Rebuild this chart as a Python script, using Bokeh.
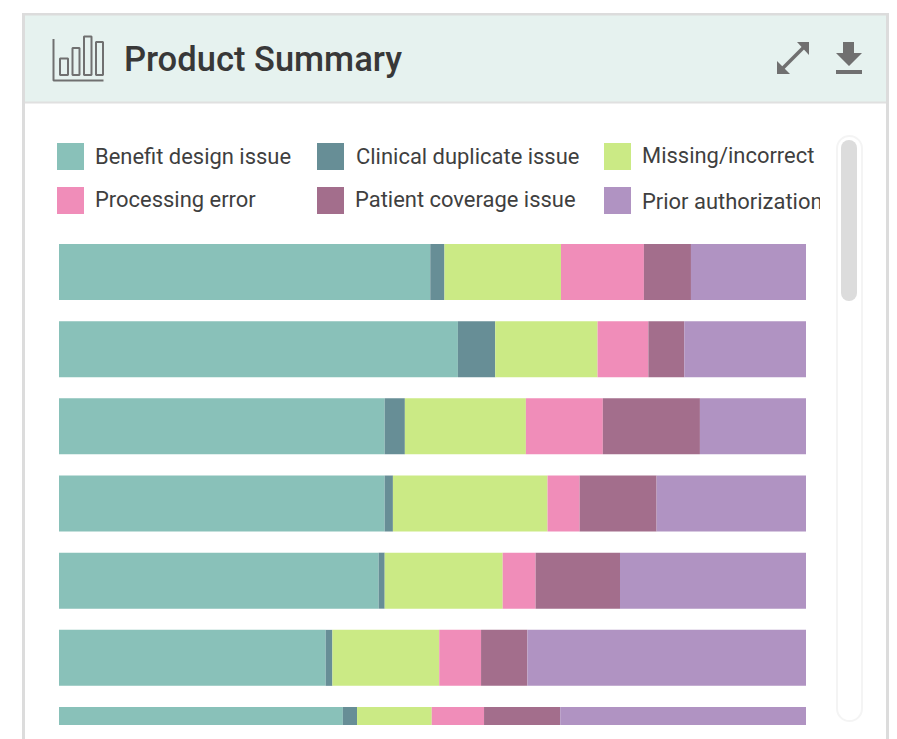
from bokeh.plotting import figure
from bokeh.models import Range1d, BoxAnnotation, ColumnDataSource
from bokeh.core.properties import value
from bokeh.embed import file_html
from bokeh.resources import INLINE

title = "Product Summary"
series = ["Benefit design issue", "Clinical duplicate issue", "Missing/incorrect",
          "Processing error", "Patient coverage issue", "Prior authorization"]
colors = ["#89c1b9", "#678e96", "#cbea85", "#f08db9", "#a36e8c", "#b093c2"]
rows = [0, 1, 2, 3, 4, 5, 6]
benefit = [49.7, 53.4, 43.6, 43.6, 42.8, 35.7, 38.0]
clinical = [1.9, 5.0, 2.7, 1.1, 0.8, 0.9, 1.9]
missing = [15.6, 13.7, 16.2, 20.7, 15.8, 14.3, 10.0]
processing = [11.1, 6.8, 10.3, 4.3, 4.4, 5.6, 7.0]
patient = [6.3, 4.8, 13.0, 10.3, 11.3, 6.2, 10.2]
prior = [15.4, 16.3, 14.2, 20.0, 24.9, 37.3, 32.9]

W, H = 897, 739
OX, OY = 0.5, 0.5            # where the figure lands in the picture
BAR_L, BAR_R = 59, 806       # screen extent of 0..100 %
ROW0, PITCH, BAR_H = 272, 77.17, 56
sx = (BAR_R - BAR_L) / 100

p = figure(width=W, height=H, output_backend="svg", toolbar_location=None,
           x_range=Range1d((OX - BAR_L) / sx, (OX + W - BAR_L) / sx),
           y_range=Range1d((OY + H - ROW0) / PITCH, (OY - ROW0) / PITCH),
           min_border=0, outline_line_color=None, x_axis_location=None, y_axis_location=None)
p.grid.visible = False
p.background_fill_color = "white"
p.border_fill_color = "white"
p.extra_x_ranges["px"] = Range1d(OX, OX + W)
p.extra_y_ranges["px"] = Range1d(OY + H, OY)
PX = dict(x_range_name="px", y_range_name="px")

# stacked bars
src = ColumnDataSource(dict(row=rows, **dict(zip(series, [benefit, clinical, missing, processing, patient, prior]))))
p.hbar_stack(series, y="row", height=BAR_H / PITCH, color=colors, source=src, line_width=0)

# cover below the viewport of the scrolling area
p.quad(left=24, right=886, top=725, bottom=OY + H, color="white", line_width=0, **PX)

# card
GREY = "#dcdcdc"
p.quad(left=25, right=886, top=15, bottom=102, color="#e6f2ef", line_width=0, **PX)
p.segment(x0=[25], x1=[886], y0=[102.5], y1=[102.5], line_color="#e0e0e0", line_width=2, **PX)
p.quad(left=[22, 886, 22], right=[25, 889, 889], top=[13, 13, 13], bottom=[OY + H, OY + H, 15.5],
       color=GREY, line_width=0, **PX)

# header icon
ICON = "#707070"
p.multi_line(xs=[[53.5, 53.5, 103.5]], ys=[[39, 80.5, 80.5]], line_color=ICON, line_width=2, **PX)
p.quad(left=[60, 72.5, 84, 96], right=[68, 79.5, 91.5, 103], top=[58.5, 48, 36.5, 42], bottom=[75, 75, 75, 75],
       fill_color=None, line_color=ICON, line_width=2, **PX)

# title
p.text(x=[124], y=[59], text=[title], text_font=value("Roboto Medium"), text_font_size="34.5px",
       text_color="#383838", text_baseline="middle", text_align="left", **PX)

# expand icon
p.patches(xs=[[797, 809, 809], [777, 777, 790]], ys=[[42, 42, 55], [61, 74, 74]],
          color="#707070", line_width=0, **PX)
p.line(x=[804, 783], y=[47, 68], line_color="#707070", line_width=3.5, **PX)

# download icon
p.patch(x=[843, 854, 854, 862, 849, 836, 843], y=[42, 42, 53, 53, 66, 53, 53], color="#707070", line_width=0, **PX)
p.quad(left=836, right=862, top=70, bottom=74, color="#707070", line_width=0, **PX)

# legend
sw_x = [57, 317, 604, 57, 317, 604]
sw_y = [143, 143, 143, 187, 187, 187]
tx_x = [95, 356, 642, 95, 355, 642]
tx_y = [156, 156, 155, 199, 199, 201]
p.quad(left=sw_x, right=[v + 27 for v in sw_x], top=sw_y, bottom=[v + 27 for v in sw_y],
       color=colors, line_width=0, **PX)
p.text(x=tx_x, y=tx_y, text=series, text_font=value("Roboto"), text_font_size="21.95px",
       text_color="#3f3f3f", text_baseline="middle", text_align="left", **PX)
p.quad(left=820, right=835, top=130, bottom=225, color="white", line_width=0, **PX)

# scrollbar
p.add_layout(BoxAnnotation(left=837, right=862, top=136, bottom=721, fill_color=None, fill_alpha=0,
                           line_color="#dcdcdc", line_width=2, border_radius=13, **PX))
p.add_layout(BoxAnnotation(left=841, right=857, top=140, bottom=301, fill_color="#dcdcdc", fill_alpha=1,
                           line_width=0, line_alpha=0, border_radius=8, **PX))

open("out.html", "w").write(file_html(p, INLINE))
